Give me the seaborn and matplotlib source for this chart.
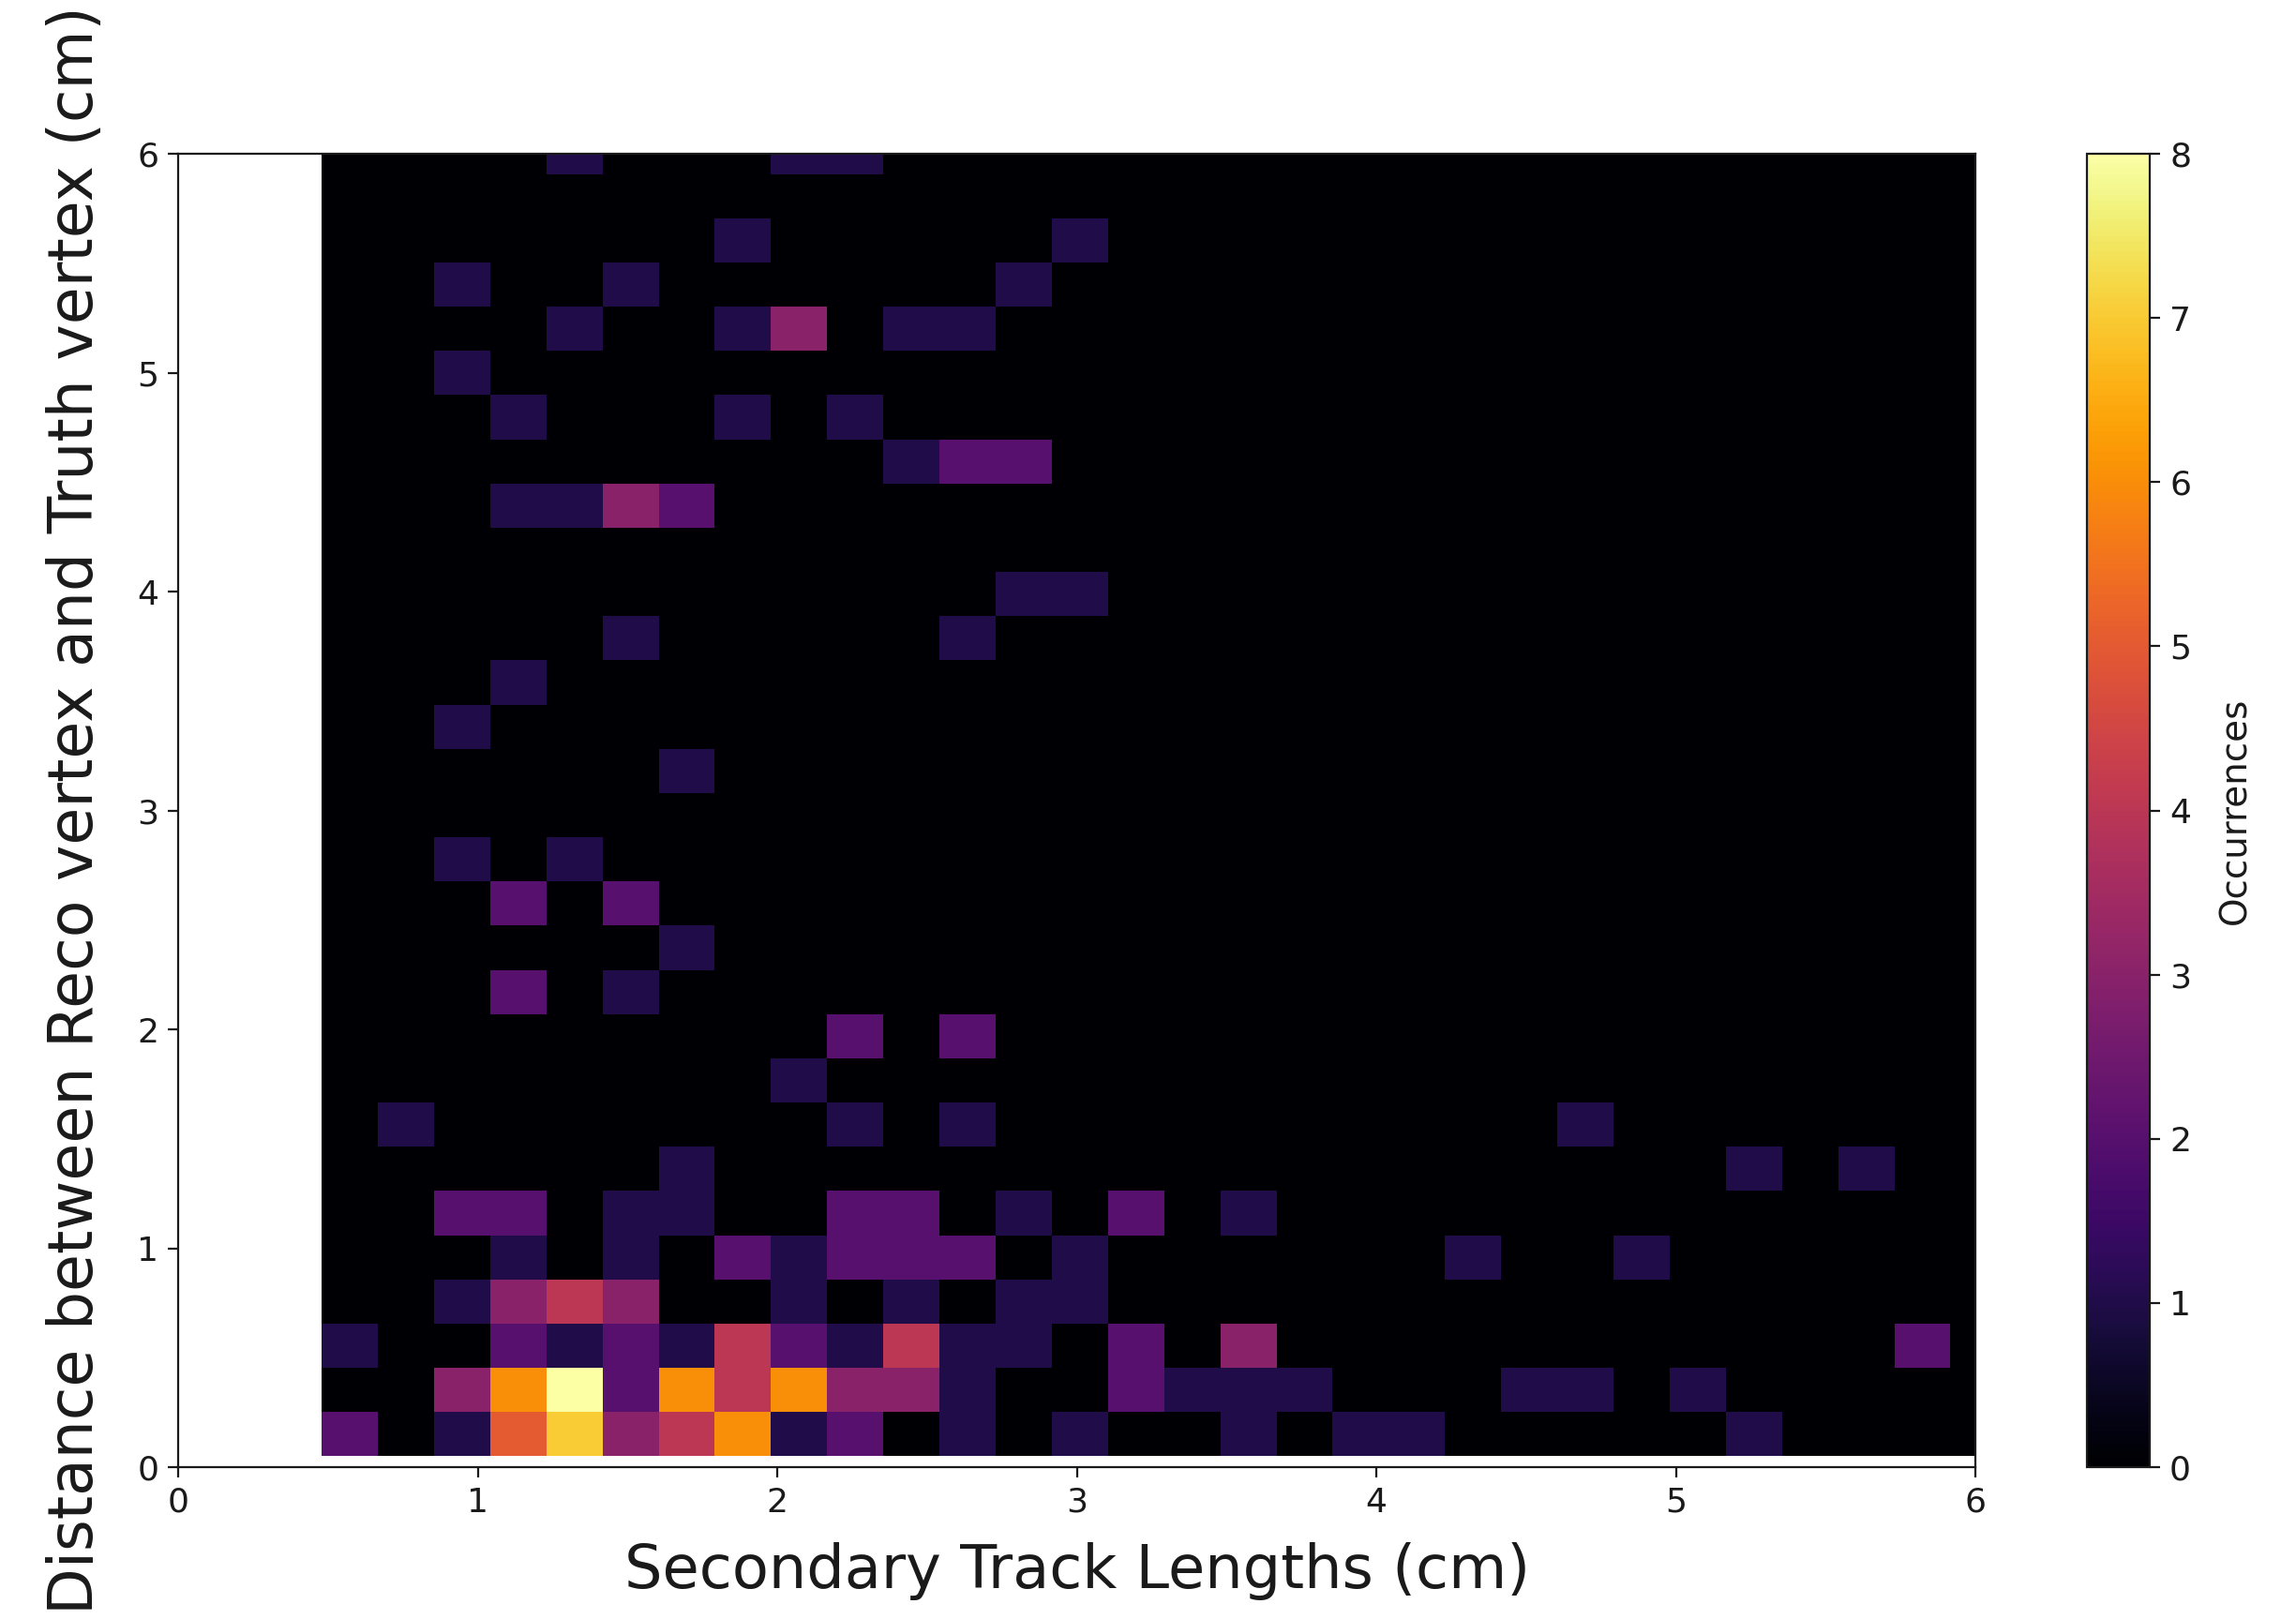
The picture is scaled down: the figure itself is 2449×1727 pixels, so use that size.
import numpy as np
import pandas as pd
import matplotlib
matplotlib.use("Agg")
import matplotlib.pyplot as plt
import seaborn as sns

# ---- data: 2D histogram of counts (rows from bottom y-bin upward, 30 x-bins each)
x_bin_start = 0.479
x_bin_width = 0.1875
y_bin_start = 0.05
y_bin_width = 0.202
n_x_bins = 30
n_y_bins = 30

counts = [
    [2, 0, 1, 5, 7, 3, 4, 6, 1, 2, 0, 1, 0, 1, 0, 0, 1, 0, 1, 1, 0, 0, 0, 0, 0, 1, 0, 0, 0, 0],
    [0, 0, 3, 6, 8, 2, 6, 4, 6, 3, 3, 1, 0, 0, 2, 1, 1, 1, 0, 0, 0, 1, 1, 0, 1, 0, 0, 0, 0, 0],
    [1, 0, 0, 2, 1, 2, 1, 4, 2, 1, 4, 1, 1, 0, 2, 0, 3, 0, 0, 0, 0, 0, 0, 0, 0, 0, 0, 0, 2, 0],
    [0, 0, 1, 3, 4, 3, 0, 0, 1, 0, 1, 0, 1, 1, 0, 0, 0, 0, 0, 0, 0, 0, 0, 0, 0, 0, 0, 0, 0, 0],
    [0, 0, 0, 1, 0, 1, 0, 2, 1, 2, 2, 2, 0, 1, 0, 0, 0, 0, 0, 0, 1, 0, 0, 1, 0, 0, 0, 0, 0, 0],
    [0, 0, 2, 2, 0, 1, 1, 0, 0, 2, 2, 0, 1, 0, 2, 0, 1, 0, 0, 0, 0, 0, 0, 0, 0, 0, 0, 0, 0, 0],
    [0, 0, 0, 0, 0, 0, 1, 0, 0, 0, 0, 0, 0, 0, 0, 0, 0, 0, 0, 0, 0, 0, 0, 0, 0, 1, 0, 1, 0, 0],
    [0, 1, 0, 0, 0, 0, 0, 0, 0, 1, 0, 1, 0, 0, 0, 0, 0, 0, 0, 0, 0, 0, 1, 0, 0, 0, 0, 0, 0, 0],
    [0, 0, 0, 0, 0, 0, 0, 0, 1, 0, 0, 0, 0, 0, 0, 0, 0, 0, 0, 0, 0, 0, 0, 0, 0, 0, 0, 0, 0, 0],
    [0, 0, 0, 0, 0, 0, 0, 0, 0, 2, 0, 2, 0, 0, 0, 0, 0, 0, 0, 0, 0, 0, 0, 0, 0, 0, 0, 0, 0, 0],
    [0, 0, 0, 2, 0, 1, 0, 0, 0, 0, 0, 0, 0, 0, 0, 0, 0, 0, 0, 0, 0, 0, 0, 0, 0, 0, 0, 0, 0, 0],
    [0, 0, 0, 0, 0, 0, 1, 0, 0, 0, 0, 0, 0, 0, 0, 0, 0, 0, 0, 0, 0, 0, 0, 0, 0, 0, 0, 0, 0, 0],
    [0, 0, 0, 2, 0, 2, 0, 0, 0, 0, 0, 0, 0, 0, 0, 0, 0, 0, 0, 0, 0, 0, 0, 0, 0, 0, 0, 0, 0, 0],
    [0, 0, 1, 0, 1, 0, 0, 0, 0, 0, 0, 0, 0, 0, 0, 0, 0, 0, 0, 0, 0, 0, 0, 0, 0, 0, 0, 0, 0, 0],
    [0, 0, 0, 0, 0, 0, 0, 0, 0, 0, 0, 0, 0, 0, 0, 0, 0, 0, 0, 0, 0, 0, 0, 0, 0, 0, 0, 0, 0, 0],
    [0, 0, 0, 0, 0, 0, 1, 0, 0, 0, 0, 0, 0, 0, 0, 0, 0, 0, 0, 0, 0, 0, 0, 0, 0, 0, 0, 0, 0, 0],
    [0, 0, 1, 0, 0, 0, 0, 0, 0, 0, 0, 0, 0, 0, 0, 0, 0, 0, 0, 0, 0, 0, 0, 0, 0, 0, 0, 0, 0, 0],
    [0, 0, 0, 1, 0, 0, 0, 0, 0, 0, 0, 0, 0, 0, 0, 0, 0, 0, 0, 0, 0, 0, 0, 0, 0, 0, 0, 0, 0, 0],
    [0, 0, 0, 0, 0, 1, 0, 0, 0, 0, 0, 1, 0, 0, 0, 0, 0, 0, 0, 0, 0, 0, 0, 0, 0, 0, 0, 0, 0, 0],
    [0, 0, 0, 0, 0, 0, 0, 0, 0, 0, 0, 0, 1, 1, 0, 0, 0, 0, 0, 0, 0, 0, 0, 0, 0, 0, 0, 0, 0, 0],
    [0, 0, 0, 0, 0, 0, 0, 0, 0, 0, 0, 0, 0, 0, 0, 0, 0, 0, 0, 0, 0, 0, 0, 0, 0, 0, 0, 0, 0, 0],
    [0, 0, 0, 1, 1, 3, 2, 0, 0, 0, 0, 0, 0, 0, 0, 0, 0, 0, 0, 0, 0, 0, 0, 0, 0, 0, 0, 0, 0, 0],
    [0, 0, 0, 0, 0, 0, 0, 0, 0, 0, 1, 2, 2, 0, 0, 0, 0, 0, 0, 0, 0, 0, 0, 0, 0, 0, 0, 0, 0, 0],
    [0, 0, 0, 1, 0, 0, 0, 1, 0, 1, 0, 0, 0, 0, 0, 0, 0, 0, 0, 0, 0, 0, 0, 0, 0, 0, 0, 0, 0, 0],
    [0, 0, 1, 0, 0, 0, 0, 0, 0, 0, 0, 0, 0, 0, 0, 0, 0, 0, 0, 0, 0, 0, 0, 0, 0, 0, 0, 0, 0, 0],
    [0, 0, 0, 0, 1, 0, 0, 1, 3, 0, 1, 1, 0, 0, 0, 0, 0, 0, 0, 0, 0, 0, 0, 0, 0, 0, 0, 0, 0, 0],
    [0, 0, 1, 0, 0, 1, 0, 0, 0, 0, 0, 0, 1, 0, 0, 0, 0, 0, 0, 0, 0, 0, 0, 0, 0, 0, 0, 0, 0, 0],
    [0, 0, 0, 0, 0, 0, 0, 1, 0, 0, 0, 0, 0, 1, 0, 0, 0, 0, 0, 0, 0, 0, 0, 0, 0, 0, 0, 0, 0, 0],
    [0, 0, 0, 0, 0, 0, 0, 0, 0, 0, 0, 0, 0, 0, 0, 0, 0, 0, 0, 0, 0, 0, 0, 0, 0, 0, 0, 0, 0, 0],
    [0, 0, 0, 0, 1, 0, 0, 0, 1, 1, 0, 0, 0, 0, 0, 0, 0, 0, 0, 0, 0, 0, 0, 0, 0, 0, 0, 0, 0, 0],
]

axis_ticks = [0, 1, 2, 3, 4, 5, 6]
cbar_ticks = [0, 1, 2, 3, 4, 5, 6, 7, 8]
x_label = "Secondary Track Lengths (cm)"
y_label = "Distance between Reco vertex and Truth vertex (cm)"
cbar_label = "Occurrences"

# ---- build long-form table of bin centres with weights
x_edges = x_bin_start + np.arange(n_x_bins + 1) * x_bin_width
y_edges = y_bin_start + np.arange(n_y_bins + 1) * y_bin_width
x_centres = 0.5 * (x_edges[:-1] + x_edges[1:])
y_centres = 0.5 * (y_edges[:-1] + y_edges[1:])
records = []
for j, row in enumerate(counts):
    for i, c in enumerate(row):
        records.append({"x": x_centres[i], "y": y_centres[j], "count": c})
df = pd.DataFrame(records)

# ---- style
sns.set_style("ticks")
plt.rcParams["font.family"] = ["DejaVu Sans"]
plt.rcParams["axes.linewidth"] = 0.8
plt.rcParams["text.color"] = "#1a1a1a"
plt.rcParams["axes.labelcolor"] = "#1a1a1a"
plt.rcParams["xtick.color"] = "#1a1a1a"
plt.rcParams["ytick.color"] = "#1a1a1a"
plt.rcParams["axes.edgecolor"] = "#1a1a1a"

W, H, DPI = 2449, 1727, 200
fig = plt.figure(figsize=(W / DPI, H / DPI), dpi=DPI)
ax = fig.add_axes([0.0776, 0.0938, 0.7828, 0.8112])
cax = fig.add_axes([0.909, 0.0938, 0.0274, 0.8112])

sns.histplot(
    data=df, x="x", y="y", weights="count",
    bins=[x_edges, y_edges], thresh=None,
    cmap="inferno", vmin=0, vmax=8,
    cbar=True, cbar_ax=cax, cbar_kws={"label": cbar_label},
    ax=ax,
)

ax.set_xlim(0, 6)
ax.set_ylim(0, 6)
ax.set_xticks(axis_ticks)
ax.set_yticks(axis_ticks)
ax.tick_params(axis="both", labelsize=13, length=4, width=0.8, direction="out")
ax.set_xlabel(x_label, fontsize=23, labelpad=9)
ax.set_ylabel(y_label, fontsize=23.3, labelpad=12)
for s in ax.spines.values():
    s.set_visible(True)
    s.set_linewidth(0.8)

cax.set_yticks(cbar_ticks)
cax.tick_params(labelsize=13, length=4, width=0.8)
cax.set_ylabel(cbar_label, fontsize=14, labelpad=10)

fig.savefig("out.png", dpi=DPI)
